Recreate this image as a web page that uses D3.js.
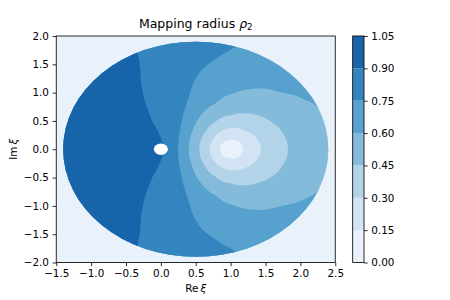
<!DOCTYPE html>
<html>
<head>
<meta charset="utf-8">
<script src="https://cdn.jsdelivr.net/npm/d3@7"></script>
<style>
  body { margin: 0; background: #fff; }
  text { font-family: "DejaVu Sans", sans-serif; fill: #000; }
</style>
</head>
<body>
<div id="chart"></div>
<script>
// grid nodes of the field (Re xi across, Im xi down)
var gridRe = [-1.5, -1.3, -1.1, -0.9, -0.7, -0.5, -0.3, -0.1, 0.1, 0.3, 0.5, 0.7, 0.9, 1.1, 1.3, 1.5, 1.7, 1.9, 2.1, 2.3, 2.5];
var gridIm = [2.0, 1.8, 1.6, 1.4, 1.2, 1.0, 0.8, 0.6, 0.4, 0.2, 0.0, -0.2, -0.4, -0.6, -0.8, -1.0, -1.2, -1.4, -1.6, -1.8, -2.0];

// mapping radius rho_2, one row per gridIm value
var rho2 = [
  [0.98, 0.97, 0.96, 0.94, 0.92, 0.905, 0.89, 0.87, 0.85, 0.83, 0.81, 0.79, 0.775, 0.76, 0.745, 0.735, 0.73, 0.73, 0.735, 0.74, 0.75],
  [0.99, 0.98, 0.97, 0.95, 0.93, 0.915, 0.895, 0.875, 0.85, 0.83, 0.81, 0.79, 0.77, 0.745, 0.73, 0.72, 0.715, 0.715, 0.72, 0.73, 0.74],
  [1.0, 0.99, 0.98, 0.96, 0.94, 0.92, 0.898, 0.871, 0.844, 0.817, 0.79, 0.763, 0.735, 0.715, 0.70, 0.69, 0.69, 0.69, 0.70, 0.71, 0.72],
  [1.0, 1.0, 0.99, 0.97, 0.95, 0.93, 0.901, 0.866, 0.832, 0.798, 0.764, 0.73, 0.70, 0.675, 0.66, 0.655, 0.655, 0.66, 0.67, 0.68, 0.69],
  [1.0, 1.0, 0.99, 0.98, 0.96, 0.94, 0.903, 0.86, 0.825, 0.787, 0.745, 0.71, 0.675, 0.65, 0.635, 0.63, 0.632, 0.64, 0.65, 0.665, 0.68],
  [1.0, 1.0, 1.0, 0.99, 0.97, 0.95, 0.91, 0.86, 0.82, 0.775, 0.733, 0.675, 0.625, 0.595, 0.583, 0.585, 0.598, 0.607, 0.625, 0.643, 0.66],
  [1.0, 1.0, 1.0, 0.99, 0.98, 0.96, 0.925, 0.865, 0.815, 0.77, 0.71, 0.62, 0.56, 0.528, 0.52, 0.529, 0.548, 0.572, 0.59, 0.612, 0.643],
  [1.0, 1.0, 1.0, 0.99, 0.98, 0.97, 0.95, 0.88, 0.82, 0.76, 0.64, 0.535, 0.465, 0.435, 0.44, 0.466, 0.50, 0.535, 0.568, 0.59, 0.62],
  [1.0, 1.0, 1.0, 1.0, 0.99, 0.97, 0.95, 0.905, 0.86, 0.74, 0.584, 0.445, 0.35, 0.323, 0.353, 0.404, 0.456, 0.504, 0.545, 0.581, 0.612],
  [1.0, 1.0, 1.0, 1.0, 0.99, 0.98, 0.965, 0.93, 0.87, 0.715, 0.525, 0.348, 0.18, 0.17, 0.27, 0.354, 0.424, 0.482, 0.529, 0.569, 0.603],
  [1.0, 1.0, 1.0, 1.0, 1.0, 0.99, 0.97, 0.95, 0.88, 0.70, 0.50, 0.30, 0.10, 0.09, 0.23, 0.333, 0.412, 0.474, 0.524, 0.565, 0.60],
  [1.0, 1.0, 1.0, 1.0, 0.99, 0.98, 0.965, 0.93, 0.87, 0.715, 0.525, 0.348, 0.18, 0.17, 0.27, 0.354, 0.424, 0.482, 0.529, 0.569, 0.603],
  [1.0, 1.0, 1.0, 1.0, 0.99, 0.97, 0.95, 0.905, 0.86, 0.74, 0.584, 0.445, 0.35, 0.323, 0.353, 0.404, 0.456, 0.504, 0.545, 0.581, 0.612],
  [1.0, 1.0, 1.0, 0.99, 0.98, 0.97, 0.95, 0.88, 0.82, 0.76, 0.64, 0.535, 0.465, 0.435, 0.44, 0.466, 0.50, 0.535, 0.568, 0.59, 0.62],
  [1.0, 1.0, 1.0, 0.99, 0.98, 0.96, 0.925, 0.865, 0.815, 0.77, 0.71, 0.62, 0.56, 0.528, 0.52, 0.529, 0.548, 0.572, 0.59, 0.612, 0.643],
  [1.0, 1.0, 1.0, 0.99, 0.97, 0.95, 0.91, 0.86, 0.82, 0.775, 0.733, 0.675, 0.625, 0.595, 0.583, 0.585, 0.598, 0.607, 0.625, 0.643, 0.66],
  [1.0, 1.0, 0.99, 0.98, 0.96, 0.94, 0.903, 0.86, 0.825, 0.787, 0.745, 0.71, 0.675, 0.65, 0.635, 0.63, 0.632, 0.64, 0.65, 0.665, 0.68],
  [1.0, 1.0, 0.99, 0.97, 0.95, 0.93, 0.901, 0.866, 0.832, 0.798, 0.764, 0.73, 0.70, 0.675, 0.66, 0.655, 0.655, 0.66, 0.67, 0.68, 0.69],
  [1.0, 0.99, 0.98, 0.96, 0.94, 0.92, 0.898, 0.871, 0.844, 0.817, 0.79, 0.763, 0.735, 0.715, 0.70, 0.69, 0.69, 0.69, 0.70, 0.71, 0.72],
  [0.99, 0.98, 0.97, 0.95, 0.93, 0.915, 0.895, 0.875, 0.85, 0.83, 0.81, 0.79, 0.77, 0.745, 0.73, 0.72, 0.715, 0.715, 0.72, 0.73, 0.74],
  [0.98, 0.97, 0.96, 0.94, 0.92, 0.905, 0.89, 0.87, 0.85, 0.83, 0.81, 0.79, 0.775, 0.76, 0.745, 0.735, 0.73, 0.73, 0.735, 0.74, 0.75]
];

// the field lives on the disk |xi - 0.5| < 1.9, masked near xi = 0
var diskCenter = 0.5, diskRadius = 1.9, holeRadius = 0.1;

var levels = [0, 0.15, 0.3, 0.45, 0.6, 0.75, 0.9, 1.05];
var xTicks = [-1.5, -1.0, -0.5, 0.0, 0.5, 1.0, 1.5, 2.0, 2.5];
var yTicks = [-2.0, -1.5, -1.0, -0.5, 0.0, 0.5, 1.0, 1.5, 2.0];

var colors = ["#e9f2fa", "#d2e3f3", "#b3d3e8", "#84bbdb", "#57a1ce", "#3484bf", "#1764ab"];

var width = 450, height = 300;
var axL = 56.25, axR = 335.25, axT = 36, axB = 262.5;
var fs = 10.4, tickLen = 3.65, lw = 0.83;

var svg = d3.select("#chart").append("svg")
  .attr("width", width).attr("height", height);

var x = d3.scaleLinear().domain([-1.5, 2.5]).range([axL, axR]);
var y = d3.scaleLinear().domain([-2, 2]).range([axB, axT]);

// background = lowest band (value 0 outside the disk)
svg.append("rect")
  .attr("x", axL).attr("y", axT)
  .attr("width", axR - axL).attr("height", axB - axT)
  .attr("fill", colors[0]);

svg.append("clipPath").attr("id", "disk")
  .append("ellipse")
  .attr("cx", x(diskCenter)).attr("cy", y(0))
  .attr("rx", x(diskCenter + diskRadius) - x(diskCenter))
  .attr("ry", y(0) - y(diskRadius));

var stepRe = gridRe[1] - gridRe[0], stepIm = gridIm[0] - gridIm[1];
function toPx(p) {
  return [x(gridRe[0] + (p[0] - 0.5) * stepRe), y(gridIm[0] - (p[1] - 0.5) * stepIm)];
}
var ringLine = d3.line().curve(d3.curveCatmullRomClosed.alpha(0.5));
function geomPath(g) {
  return g.coordinates.map(function(poly) {
    return poly.map(function(ring) { return ringLine(ring.slice(0, -1).map(toPx)); }).join("");
  }).join("");
}

var bands = d3.contours()
  .size([gridRe.length, gridIm.length])
  .thresholds(levels.slice(1, -1))(rho2.flat());

var field = svg.append("g").attr("clip-path", "url(#disk)");
field.selectAll("path.band")
  .data(bands)
  .enter().append("path")
  .attr("class", "band")
  .attr("d", geomPath)
  .attr("fill-rule", "evenodd")
  .attr("fill", function(d, i) { return colors[i + 1]; });

// masked spot around the origin
svg.append("ellipse")
  .attr("cx", x(0)).attr("cy", y(0))
  .attr("rx", x(holeRadius) - x(0))
  .attr("ry", y(0) - y(holeRadius))
  .attr("fill", "#fff");

// axes
var xAxis = svg.append("g")
  .attr("transform", "translate(0," + axB + ")")
  .call(d3.axisBottom(x).tickValues(xTicks).tickFormat(d3.format(".1f"))
    .tickSize(tickLen).tickPadding(3.65).tickSizeOuter(0));
var yAxis = svg.append("g")
  .attr("transform", "translate(" + axL + ",0)")
  .call(d3.axisLeft(y).tickValues(yTicks).tickFormat(d3.format(".1f"))
    .tickSize(tickLen).tickPadding(3.65).tickSizeOuter(0));
[xAxis, yAxis].forEach(function(a) {
  a.select(".domain").remove();
  a.selectAll("line").attr("stroke", "#000").attr("stroke-width", lw);
  a.selectAll("text").style("font-size", fs + "px").style("font-family", "DejaVu Sans");
});

svg.append("rect")
  .attr("x", axL).attr("y", axT)
  .attr("width", axR - axL).attr("height", axB - axT)
  .attr("fill", "none").attr("stroke", "#000").attr("stroke-width", lw);

// title and labels
var title = svg.append("text")
  .attr("x", (axL + axR) / 2).attr("y", 27.5)
  .attr("text-anchor", "middle").style("font-size", "12.5px");
title.append("tspan").text("Mapping radius ");
title.append("tspan").style("font-style", "italic").text("ρ");
title.append("tspan").attr("dy", 2.6).style("font-size", "8.7px").text("2");

var xl = svg.append("text")
  .attr("x", (axL + axR) / 2).attr("y", 292)
  .attr("text-anchor", "middle").style("font-size", fs + "px");
xl.append("tspan").text("Re\u2009");
xl.append("tspan").style("font-style", "italic").text("ξ");

var yl = svg.append("text")
  .attr("transform", "translate(17," + ((axT + axB) / 2) + ") rotate(-90)")
  .attr("text-anchor", "middle").style("font-size", fs + "px");
yl.append("tspan").text("Im\u2009");
yl.append("tspan").style("font-style", "italic").text("ξ");

// colorbar
var cbLeft = 352.7, cbWidth = 11.3;
var cbY = d3.scaleLinear().domain([levels[0], levels[levels.length - 1]]).range([axB, axT]);
var cb = svg.append("g");
cb.selectAll("rect.lev")
  .data(d3.range(levels.length - 1))
  .enter().append("rect")
  .attr("class", "lev")
  .attr("x", cbLeft).attr("width", cbWidth)
  .attr("y", function(i) { return cbY(levels[i + 1]); })
  .attr("height", function(i) { return cbY(levels[i]) - cbY(levels[i + 1]); })
  .attr("fill", function(i) { return colors[i]; });
cb.append("rect")
  .attr("x", cbLeft).attr("y", axT)
  .attr("width", cbWidth).attr("height", axB - axT)
  .attr("fill", "none").attr("stroke", "#000").attr("stroke-width", lw);
var cbAxis = svg.append("g")
  .attr("transform", "translate(" + (cbLeft + cbWidth) + ",0)")
  .call(d3.axisRight(cbY).tickValues(levels).tickFormat(d3.format(".2f"))
    .tickSize(tickLen).tickPadding(3.65).tickSizeOuter(0));
cbAxis.select(".domain").remove();
cbAxis.selectAll("line").attr("stroke", "#000").attr("stroke-width", lw);
cbAxis.selectAll("text").style("font-size", fs + "px").style("font-family", "DejaVu Sans");
</script>
</body>
</html>
